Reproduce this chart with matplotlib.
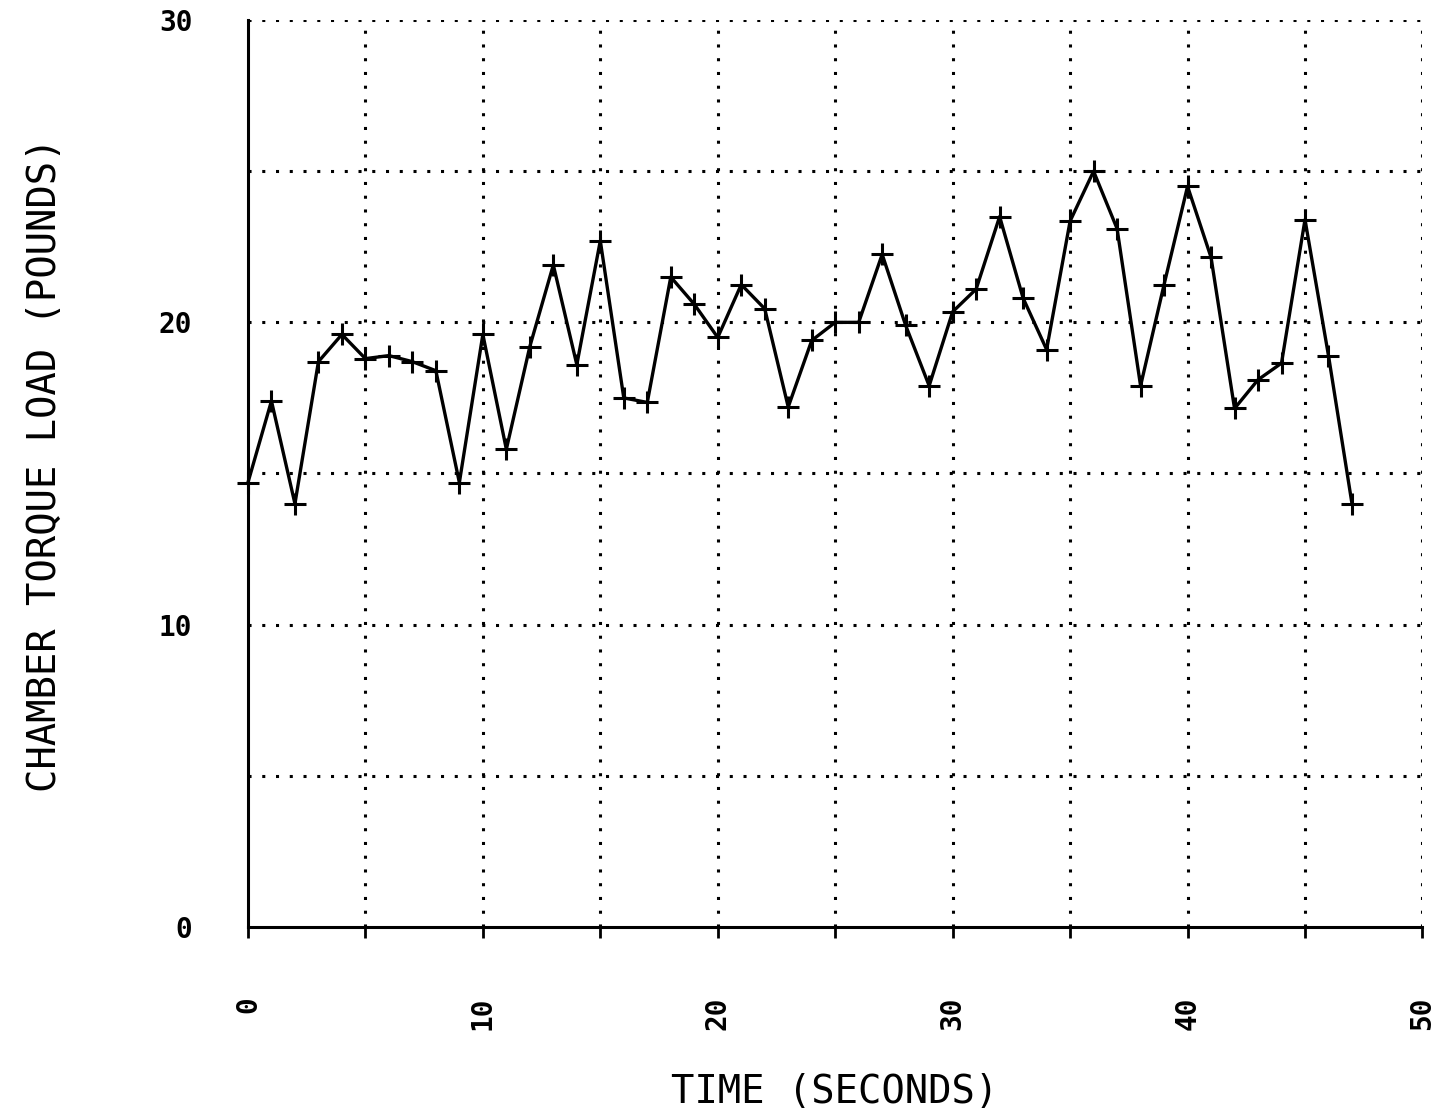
import matplotlib
matplotlib.use("Agg")
import matplotlib.pyplot as plt

# データ
time_s = list(range(48))
torque = [14.7, 17.4, 14.0, 18.7, 19.6, 18.8, 18.9, 18.7, 18.4, 14.7,
          19.6, 15.8, 19.2, 21.9, 18.6, 22.7, 17.5, 17.35, 21.5, 20.6,
          19.5, 21.25, 20.45, 17.2, 19.4, 20.0, 20.0, 22.25, 19.9, 17.9,
          20.35, 21.1, 23.5, 20.8, 19.1, 23.35, 25.0, 23.1, 17.9, 21.25,
          24.5, 22.15, 17.15, 18.1, 18.65, 23.4, 18.9, 14.0]

x_ticks = [0, 10, 20, 30, 40, 50]
y_ticks = [0, 10, 20, 30]
x_grid = list(range(5, 51, 5))
y_grid = list(range(5, 31, 5))

FONT = "DejaVu Sans Mono"

fig = plt.figure(figsize=(14.5, 11.18), dpi=100)
ax = fig.add_axes([0.171, 0.171, 0.810, 0.811])

ax.set_xlim(0, 50)
ax.set_ylim(0, 30)

# 点線グリッド
for gx in x_grid:
    ax.axvline(gx, color="black", linestyle=(0, (1, 3.5)), linewidth=2.2, zorder=1)
for gy in y_grid:
    ax.axhline(gy, color="black", linestyle=(0, (1, 3.5)), linewidth=2.2, zorder=1)

ax.plot(time_s, torque, color="black", linewidth=2.4, marker="+",
        markersize=16, markeredgewidth=2.2, zorder=3, clip_on=False)

for side in ["top", "right"]:
    ax.spines[side].set_visible(False)
ax.spines["left"].set_linewidth(2.2)
ax.spines["bottom"].set_linewidth(2.2)

ax.set_xticks(list(range(0, 51, 5)))
ax.set_xticklabels([str(v) if v in x_ticks else "" for v in range(0, 51, 5)],
                   rotation=90, fontsize=20, fontweight="bold", family=FONT)
ax.set_yticks(y_ticks)
ax.set_yticklabels([str(v) for v in y_ticks], fontsize=20,
                   fontweight="bold", family=FONT)
ax.tick_params(axis="x", direction="out", length=8, width=2, pad=42)
ax.tick_params(axis="y", direction="out", length=0, width=2, pad=40)

# 軸ラベル（図の座標で配置）
fig.text(835 / 1450, 1 - 1092 / 1118, "TIME (SECONDS)", fontsize=28,
         family=FONT, ha="center", va="center")
fig.text(45 / 1450, 1 - 465 / 1118, "CHAMBER TORQUE LOAD (POUNDS)",
         fontsize=28, family=FONT, rotation=90, ha="center", va="center")

fig.savefig("out.png", dpi=100)
